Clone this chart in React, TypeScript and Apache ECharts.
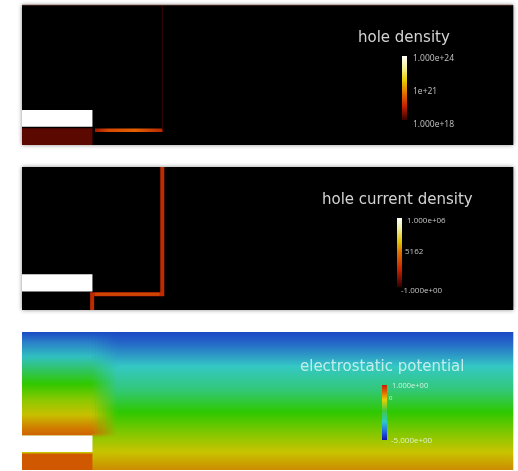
import React, { useEffect, useRef } from "react";
import * as echarts from "echarts";

// Device domain (x: 0..7, y: 0..2) shared by the three panels
const X_RANGE = [0, 7];
const Y_RANGE = [0, 2];

// Regions [x0, y0, x1, y1]
const domainRect = [0, 0, 7, 2];
const contactRect = [0, 0.26, 1.0, 0.5];
const baseRect = [0, 0, 1.0, 0.24];

// Panel 1: hole density
const densityStrip = [1.04, 0.185, 2.0, 0.235];
const densityEdge = [[2.0, 0.22], [2.0, 2.0]];

// Panel 2: hole current density path
const currentPath = [[1.0, 0], [1.0, 0.22], [2.0, 0.22], [2.0, 2.0]];
const currentHorizontal = [[1.04, 0.22], [1.96, 0.22]];

// Panel 3: electrostatic potential regions
const potentialLeft = [0, 0.5, 1.0, 2.0];
const blendStart = 1.0;
const blendEnd = 1.36;

// Titles and colour-bar tick labels
const titles = ["hole density", "hole current density", "electrostatic potential"];
const densityTicks = ["1.000e+24", "1e+21", "1.000e+18"];
const currentTicks = ["1.000e+06", "5162", "-1.000e+00"];
const potentialTicks = ["1.000e+00", "0", "-5.000e+00"];

type Stop = [number, string];

const lin = (stops: Stop[], horizontal = false) => ({
  type: "linear",
  x: 0,
  y: 0,
  x2: horizontal ? 1 : 0,
  y2: horizontal ? 0 : 1,
  colorStops: stops.map(([offset, color]) => ({ offset, color })),
});

const rightStops: Stop[] = [
  [0, "#1c4ac4"],
  [0.07, "#2462c8"],
  [0.25, "#34c8c4"],
  [0.42, "#32c878"],
  [0.58, "#2ec800"],
  [0.73, "#80c800"],
  [0.87, "#c8c400"],
  [1, "#cc8c00"],
];
// left region above contact (fraction 0..1 maps y 2.0 .. 0.5)
const leftStops: Stop[] = [
  [0, "#1c4ac4"],
  [0.1, "#2a80c8"],
  [0.24, "#30c0c0"],
  [0.5, "#30c800"],
  [0.66, "#8cc800"],
  [0.8, "#c8c000"],
  [0.92, "#d08000"],
  [1, "#d06000"],
];

const hex = (c: string) => [1, 3, 5].map((i) => parseInt(c.slice(i, i + 2), 16));
function sample(stops: Stop[], t: number): number[] {
  for (let i = 1; i < stops.length; i++) {
    if (t <= stops[i][0]) {
      const [o0, c0] = stops[i - 1];
      const [o1, c1] = stops[i];
      const f = o1 === o0 ? 0 : (t - o0) / (o1 - o0);
      const a = hex(c0), b = hex(c1);
      return a.map((v, k) => v + (b[k] - v) * f);
    }
  }
  return hex(stops[stops.length - 1][1]);
}
function blendGrad(w: number) {
  const stops: Stop[] = [];
  for (let i = 0; i <= 30; i++) {
    const p = i / 30;
    const l = p <= 0.75 ? sample(leftStops, p / 0.75) : sample(rightStops, p);
    const r = sample(rightStops, p);
    const c = l.map((v, k) => Math.round(v + (r[k] - v) * w));
    stops.push([p, `rgb(${c[0]},${c[1]},${c[2]})`]);
  }
  return lin(stops);
}

const rightGrad = lin(rightStops);
const leftGrad = lin(leftStops);
const stripGrad = lin(
  [
    [0, "#a01800"],
    [0.2, "#d84800"],
    [0.6, "#e46000"],
    [1, "#b82800"],
  ],
  true
);

const grids = [
  { left: 22, top: 5, width: 491, height: 140 },
  { left: 22, top: 167, width: 491, height: 143 },
  { left: 22, top: 332, width: 491, height: 138 },
];

function rectSeries(g: number, rects: number[][], fills: any[], shadow = false, z = 1) {
  return {
    type: "custom",
    xAxisIndex: g,
    yAxisIndex: g,
    coordinateSystem: "cartesian2d",
    silent: true,
    clip: false,
    z,
    data: rects.map((r, i) => [...r, i]),
    encode: { x: [0, 2], y: [1, 3] },
    renderItem: (_p: any, api: any) => {
      const a = api.coord([api.value(0), api.value(3)]);
      const b = api.coord([api.value(2), api.value(1)]);
      const i = api.value(4);
      return {
        type: "rect",
        shape: { x: a[0], y: a[1], width: b[0] - a[0] + 0.3, height: b[1] - a[1] },
        style: {
          fill: fills[i],
          shadowBlur: shadow && i === 0 ? 4 : 0,
          shadowColor: "rgba(0,0,0,0.45)",
        },
      };
    },
  };
}

function lineSeries(g: number, pts: number[][], color: string, width: number, z = 5) {
  return {
    type: "line",
    xAxisIndex: g,
    yAxisIndex: g,
    data: pts,
    symbol: "none",
    silent: true,
    z,
    lineStyle: { color, width, cap: "butt", join: "miter" },
  };
}

function colorBar(x: number, y: number, w: number, h: number, stops: Stop[]) {
  return {
    type: "rect",
    shape: { x, y, width: w, height: h },
    style: { fill: new echarts.graphic.LinearGradient(0, 0, 0, 1, stops.map(([offset, color]) => ({ offset, color }))) },
    z: 20,
  };
}

function label(text: string, x: number, y: number, size: number, fill: string, family = "Open Sans") {
  return {
    type: "text",
    x,
    y,
    z: 20,
    style: { text, fontSize: size, fontFamily: family, fill, verticalAlign: "middle", align: "left" },
  };
}

const BLEND_COLS = 16;
const blendRects = Array.from({ length: BLEND_COLS }, (_, i) => {
  const w = (blendEnd - blendStart) / BLEND_COLS;
  return [blendStart + i * w, 0, blendStart + (i + 1) * w, 2];
});
const blendFills = blendRects.map((_, i) => blendGrad((i + 0.5) / BLEND_COLS));

export default function App() {
  const ref = useRef<HTMLDivElement>(null);
  useEffect(() => {
    if (!ref.current) return;
    const chart = echarts.init(ref.current, undefined, { renderer: "svg" });
    const axisX = grids.map((_, i) => ({ type: "value", gridIndex: i, min: X_RANGE[0], max: X_RANGE[1], show: false }));
    const axisY = grids.map((_, i) => ({ type: "value", gridIndex: i, min: Y_RANGE[0], max: Y_RANGE[1], show: false }));
    const titleFont = "DejaVu Sans";
    chart.setOption({
      animation: false,
      backgroundColor: "#ffffff",
      grid: grids.map((g) => ({ ...g, containLabel: false })),
      xAxis: axisX,
      yAxis: axisY,
      series: [
        // Panel 1
        rectSeries(0, [domainRect, baseRect, contactRect, densityStrip], ["#000000", "#5a0800", "#ffffff", stripGrad], true),
        lineSeries(0, densityEdge, "#3c0600", 1),
        lineSeries(0, [[0, 2], [7, 2]], "#6e4038", 1),
        // Panel 2
        rectSeries(1, [domainRect, contactRect], ["#000000", "#ffffff"], true),
        lineSeries(1, currentPath, "#c02a00", 4),
        lineSeries(1, currentHorizontal, "#d04400", 3, 6),
        // Panel 3
        rectSeries(
          2,
          [domainRect, potentialLeft, ...blendRects, baseRect, contactRect],
          [rightGrad, leftGrad, ...blendFills, "#d05800", "#ffffff"],
          false
        ),
      ],
      graphic: [
        label(titles[0], 358, 37, 15, "#d4d4d4", titleFont),
        colorBar(402, 56, 5, 64, [
          [0, "#ffffff"],
          [0.2, "#f4f090"],
          [0.38, "#e8cc00"],
          [0.58, "#e07000"],
          [0.78, "#c82000"],
          [1, "#380000"],
        ]),
        label(densityTicks[0], 413, 57, 8.5, "#c4c4c4"),
        label(densityTicks[1], 413, 90, 8.5, "#c4c4c4"),
        label(densityTicks[2], 413, 123, 8.5, "#c4c4c4"),

        label(titles[1], 322, 199, 15, "#d4d4d4", titleFont),
        colorBar(397, 218, 5, 69, [
          [0, "#ffffff"],
          [0.15, "#f0f0a0"],
          [0.35, "#e0c000"],
          [0.5, "#e07000"],
          [0.75, "#c82000"],
          [1, "#300000"],
        ]),
        label(currentTicks[0], 407, 219, 8, "#c4c4c4"),
        label(currentTicks[1], 405, 250, 8, "#c4c4c4"),
        label(currentTicks[2], 401, 289, 8, "#c4c4c4"),

        label(titles[2], 300, 366, 15, "rgba(235,250,245,0.78)", titleFont),
        colorBar(382, 385, 5, 55, [
          [0, "#c81e00"],
          [0.12, "#e06000"],
          [0.27, "#e8d000"],
          [0.47, "#40c840"],
          [0.67, "#30c8c8"],
          [0.86, "#2060e0"],
          [1, "#1010b0"],
        ]),
        label(potentialTicks[0], 392, 385, 7.5, "rgba(235,250,240,0.85)"),
        label(potentialTicks[1], 389, 398, 6, "rgba(235,250,240,0.85)"),
        label(potentialTicks[2], 391, 439, 8, "rgba(235,250,240,0.85)"),
      ],
    });
    return () => chart.dispose();
  }, []);
  return (
    <div
      ref={ref}
      style={{ position: "fixed", left: 0, top: 0, width: 518, height: 471, filter: "blur(0.7px)" }}
    />
  );
}
